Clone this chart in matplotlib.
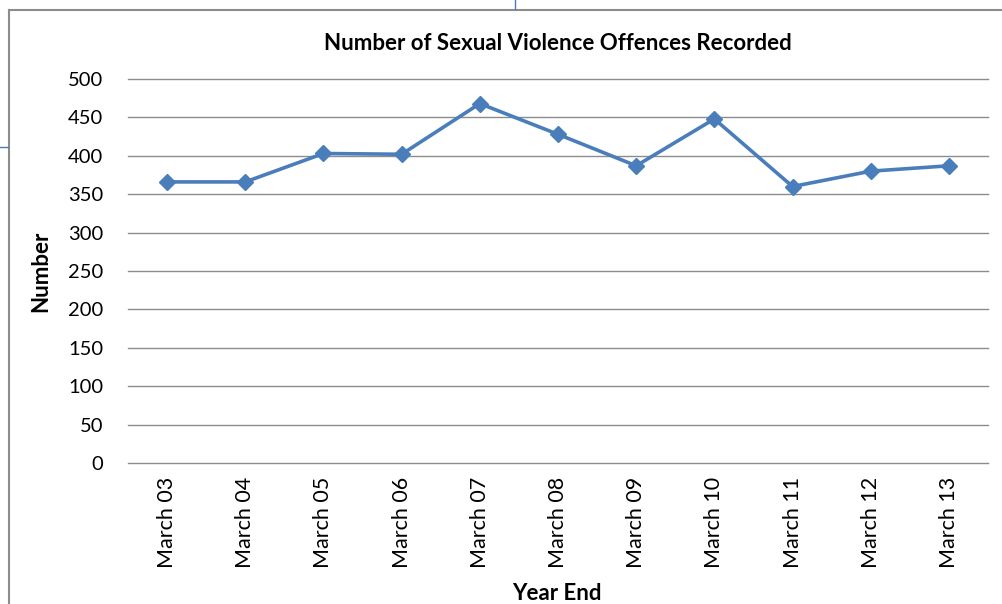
import matplotlib
matplotlib.use('Agg')
import matplotlib.pyplot as plt
from matplotlib.lines import Line2D

# Recorded offences per year end
years = ['March 03', 'March 04', 'March 05', 'March 06', 'March 07', 'March 08',
         'March 09', 'March 10', 'March 11', 'March 12', 'March 13']
offences = [366, 366, 403, 402, 468, 428, 387, 448, 360, 380, 387]
yticks = [0, 50, 100, 150, 200, 250, 300, 350, 400, 450, 500]

plt.rcParams['font.family'] = ['Lato', 'DejaVu Sans']

W, H = 1002, 604
fig = plt.figure(figsize=(W / 100, H / 100), dpi=100)
fig.patch.set_facecolor('white')

# plot area in pixel coordinates
left, right, top, bottom = 128, 988, 79, 463
ax = fig.add_axes([left / W, 1 - bottom / H, (right - left) / W, (bottom - top) / H])

x = range(len(years))
ax.plot(x, offences, color='#4A7EBB', lw=2.6, marker='D', markersize=8.5,
        markeredgecolor='#4A7EBB', markerfacecolor='#4A7EBB', zorder=3,
        clip_on=False)

ax.set_xlim(-0.5, len(years) - 0.5)
ax.set_ylim(0, 500)
ax.set_yticks(yticks)
ax.set_yticklabels([str(v) for v in yticks], fontsize=14.5)
ax.set_xticks(list(x))
ax.set_xticklabels(years, rotation=90, fontsize=15.5)
ax.tick_params(length=0, pad=10)
ax.tick_params(axis='y', pad=18)

ax.grid(axis='y', color='#8C8C8C', lw=1)
for gl in ax.get_ygridlines():
    gl.set_clip_on(False)
ax.set_axisbelow(True)
for s in ax.spines.values():
    s.set_visible(False)

ax.set_title('Number of Sexual Violence Offences Recorded', fontsize=16,
             fontweight='bold', pad=21)
ax.set_ylabel('Number', fontsize=16, fontweight='bold', labelpad=12)
fig.text(557 / W, 1 - 594 / H, 'Year End', fontsize=16, fontweight='bold',
         ha='center', va='center')

# chart frame and the page guides around it
fig.add_artist(Line2D([8.5 / W, 8.5 / W], [0, 1 - 9.5 / H], color='#8C8C8C',
                      lw=1.5, transform=fig.transFigure))
fig.add_artist(Line2D([8.5 / W, 1], [1 - 9.5 / H, 1 - 9.5 / H], color='#8C8C8C',
                      lw=1.5, transform=fig.transFigure))
fig.add_artist(Line2D([0, 8 / W], [1 - 147 / H, 1 - 147 / H], color='#4A7EBB',
                      lw=1, transform=fig.transFigure))
fig.add_artist(Line2D([514.5 / W, 514.5 / W], [1 - 9 / H, 1], color='#4A7EBB',
                      lw=1, transform=fig.transFigure))

fig.savefig('out.png', dpi=100, facecolor='white')
